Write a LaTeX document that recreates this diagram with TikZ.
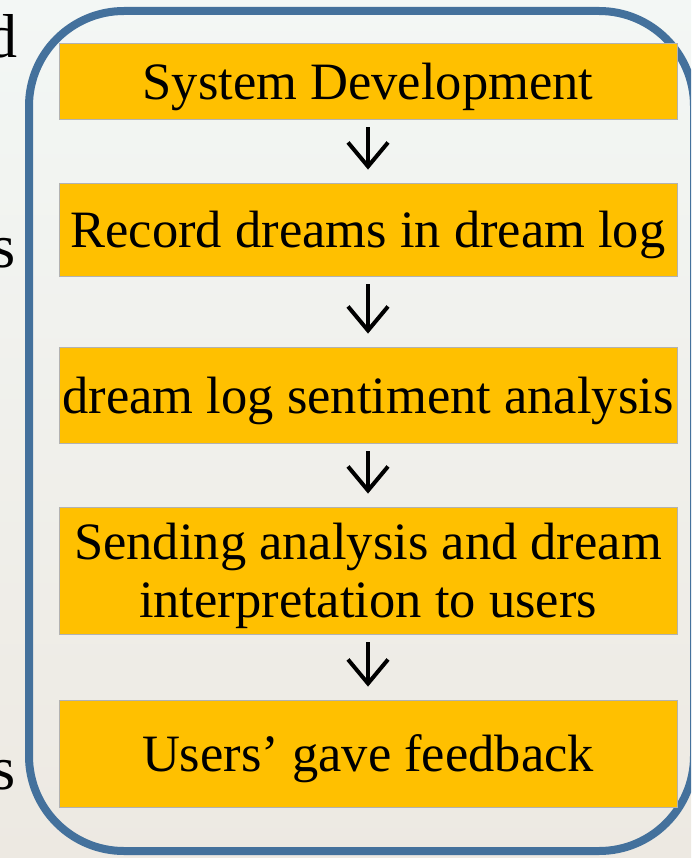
\documentclass[tikz,border=0pt]{standalone}
\usepackage{fontspec}
\setmainfont{Liberation Serif}
\usetikzlibrary{arrows.meta}
\definecolor{frameblue}{HTML}{44719C}
\definecolor{boxfill}{HTML}{FFC000}
\definecolor{bgtop}{HTML}{F3F7F5}
\definecolor{bgbot}{HTML}{EDE9E2}
\begin{document}
\begin{tikzpicture}[x=1pt,y=-1pt,
  stepbox/.style={draw=black!30, line width=0.8pt, fill=boxfill, minimum width=618pt,
    inner sep=0pt, align=center, font=\fontsize{52.5}{58}\selectfont, text=black,
    text depth=0pt},
  flow/.style={line width=4pt, -{Straight Barb[length=24pt,width=40pt]},
    shorten <=8pt, shorten >=13pt},
  edgetext/.style={font=\fontsize{62}{62}\selectfont, inner sep=0pt, text=black}]
\useasboundingbox (0,0) rectangle (691,858);
\clip (0,0) rectangle (691,858);
\fill[top color=bgtop, bottom color=bgbot] (0,0) rectangle (691,858);
% cropped text at left edge
\node[edgetext, anchor=base east] (f1) at (18,58) {d};
\node[edgetext, anchor=base east] (f2) at (16,268) {s};
\node[edgetext, anchor=base east] (f3) at (16,789) {s};
% frame
\draw[frameblue, line width=8pt, rounded corners=95pt] (29,11) rectangle (694,851);
% steps
\node[stepbox, minimum height=76pt] (b1) at (368,81) {System Development};
\node[stepbox, minimum height=93pt] (b2) at (368,229.5) {Record dreams in dream log};
\node[stepbox, minimum height=96pt] (b3) at (368,395) {dream log sentiment analysis};
\node[stepbox, minimum height=127pt] (b4) at (368,570.5) {Sending analysis and dream\\interpretation to users};
\node[stepbox, minimum height=107pt] (b5) at (368,753.5) {Users’ gave feedback};
% arrows
\draw[flow] (b1) -- (b2);
\draw[flow] (b2) -- (b3);
\draw[flow] (b3) -- (b4);
\draw[flow] (b4) -- (b5);
\end{tikzpicture}
\end{document}
